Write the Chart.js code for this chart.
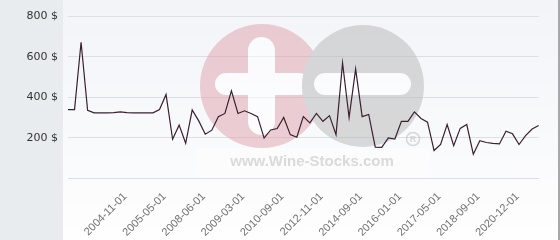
<!DOCTYPE html>
<html>
<head>
<meta charset="utf-8">
<script src="https://cdn.jsdelivr.net/npm/chart.js@4/dist/chart.umd.min.js"></script>
<style>
  html, body { margin: 0; padding: 0; }
  body { width: 560px; height: 240px; overflow: hidden; }
  #wrap {
    position: relative; width: 560px; height: 240px;
    background:
      linear-gradient(to right, #e9ecef 0, #e9ecef 63px, transparent 63px, transparent 558px, #a8a8a8 558px, #a8a8a8 560px),
      linear-gradient(to bottom, #f3f4f8 0, #f8f9fb 120px, #fefefe 240px);
  }
  canvas { display: block; }
</style>
</head>
<body>
<div id="wrap"><canvas id="c" width="560" height="240"></canvas></div>
<script>
// Tick labels sit on every 6th point starting at index 8; the other points carry no label.
const categories = [
  '', '', '', '', '', '', '', '', '2004-11-01', '', '', '', '', '',
  '2005-05-01', '', '', '', '', '', '2008-06-01', '', '', '', '', '',
  '2009-03-01', '', '', '', '', '', '2010-09-01', '', '', '', '', '',
  '2012-11-01', '', '', '', '', '', '2014-09-01', '', '', '', '', '',
  '2016-01-01', '', '', '', '', '', '2017-05-01', '', '', '', '', '',
  '2018-09-01', '', '', '', '', '', '2020-12-01', '', '', '', ''
];
const prices = [
  339, 339, 673, 336, 323, 323, 323, 324, 328, 324, 323, 323, 323, 323,
  339, 414, 192, 262, 172, 337, 283, 217, 237, 304, 320, 432, 320, 333,
  320, 304, 198, 238, 245, 300, 215, 202, 304, 273, 320, 281, 309, 215,
  570, 300, 540, 304, 315, 153, 152, 199, 193, 281, 281, 328, 295, 277,
  136, 166, 265, 160, 246, 265, 118, 185, 176, 172, 169, 232, 219, 166,
  210, 243, 260
];
const yTicks = [0, 200, 400, 600, 800];

const watermark = {
  id: 'watermark',
  beforeDatasetsDraw(chart) {
    const ctx = chart.ctx;
    const off = document.createElement('canvas');
    off.width = 560; off.height = 240;
    const o = off.getContext('2d');
    function pill(x1, y1, x2, y2) {
      const r = Math.min(x2 - x1, y2 - y1) / 2;
      o.beginPath();
      o.roundRect(x1, y1, x2 - x1, y2 - y1, r);
      o.fill();
    }
    // faint white band behind text
    o.fillStyle = 'rgba(255,255,255,0.7)';
    o.fillRect(197, 148, 233, 30);
    // red circle with plus
    o.fillStyle = '#dda0aa';
    o.beginPath(); o.arc(262, 86, 62, 0, Math.PI * 2); o.fill();
    o.fillStyle = '#ffffff';
    pill(248, 37, 275, 135);
    pill(215, 73, 310, 95);
    // gray circle with minus
    o.fillStyle = '#b6b6b6';
    o.beginPath(); o.arc(363, 86, 61, 0, Math.PI * 2); o.fill();
    o.fillStyle = '#ffffff';
    pill(314, 73, 411, 95);
    // registered mark
    o.strokeStyle = '#b6b6b6';
    o.lineWidth = 1.6;
    o.beginPath(); o.arc(413, 139, 6.5, 0, Math.PI * 2); o.stroke();
    o.fillStyle = '#b6b6b6';
    o.font = 'bold 9px "Liberation Sans", Arial, sans-serif';
    o.textAlign = 'center'; o.textBaseline = 'middle';
    o.fillText('R', 413, 139.5);
    // site text
    o.font = 'bold 15px "Liberation Sans", Arial, sans-serif';
    o.textAlign = 'center'; o.textBaseline = 'alphabetic';
    o.fillStyle = '#b9b9b9';
    o.fillText('www.Wine-Stocks.com', 312, 166);
    ctx.save();
    ctx.globalAlpha = 0.5;
    ctx.drawImage(off, 0, 0);
    ctx.restore();
  }
};

new Chart(document.getElementById('c'), {
  type: 'line',
  data: {
    labels: categories,
    datasets: [{
      data: prices,
      borderColor: '#3a2030',
      borderWidth: 1.2,
      pointRadius: 0,
      pointHoverRadius: 0,
      tension: 0,
      fill: false
    }]
  },
  options: {
    responsive: false,
    animation: false,
    events: [],
    layout: { padding: { top: 8, right: 6, bottom: 0, left: 0 } },
    plugins: { legend: { display: false }, tooltip: { enabled: false } },
    scales: {
      x: {
        type: 'category',
        offset: false,
        grid: { display: false, drawTicks: false },
        border: { display: false },
        ticks: {
          autoSkip: false,
          minRotation: 45,
          maxRotation: 45,
          padding: 12,
          labelOffset: 5,
          color: '#707070',
          font: { family: '"Liberation Sans", Arial, sans-serif', size: 11 }
        },
        afterFit(s) { s.height = 62; }
      },
      y: {
        min: 0,
        max: 800,
        afterBuildTicks(s) { s.ticks = yTicks.map(v => ({ value: v })); },
        grid: { color: '#dedfe2', lineWidth: 1, drawTicks: false },
        border: { display: false },
        ticks: {
          padding: 10,
          color: '#333333',
          font: { family: '"DejaVu Sans", sans-serif', size: 11 },
          callback: v => (v === 0 ? '' : v + ' $')
        },
        afterFit(s) { s.width = 68; }
      }
    }
  },
  plugins: [watermark]
});
</script>
</body>
</html>
